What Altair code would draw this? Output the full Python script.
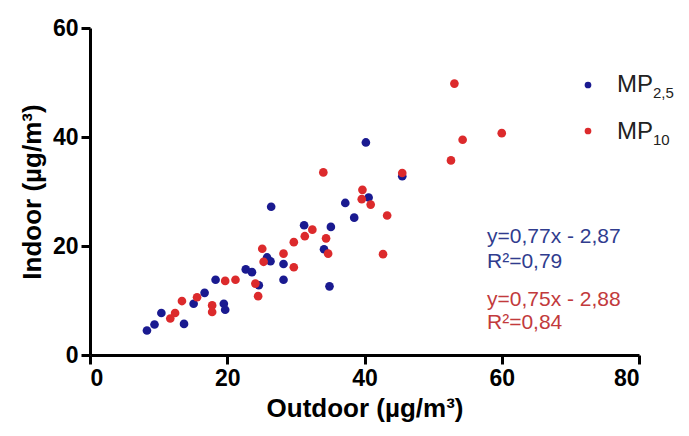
import altair as alt
import pandas as pd

# ---- data ----
pm25_x = [8.3, 9.4, 10.4, 13.7, 15.1, 16.7, 18.3, 19.5, 19.7, 22.7, 23.6, 24.6, 25.8, 26.3,
          26.4, 28.2, 28.2, 31.2, 35.1, 34.1, 34.9, 37.2, 38.5, 40.6, 40.2, 45.5]
pm25_y = [4.5, 5.6, 7.7, 5.7, 9.4, 11.4, 13.8, 9.4, 8.3, 15.7, 15.2, 12.8, 17.9, 17.2,
          27.2, 16.7, 13.8, 23.8, 23.5, 19.4, 12.6, 27.9, 25.2, 28.9, 39.0, 32.8]

pm10_x = [11.7, 12.4, 13.4, 15.6, 17.8, 17.8, 19.7, 21.2, 24.1, 24.5, 25.1, 25.3, 28.2, 29.7,
          29.7, 31.3, 32.4, 34.4, 34.7, 34.0, 39.7, 39.6, 40.9, 43.3, 42.7, 45.5, 52.6, 53.1,
          54.3, 60.0]
pm10_y = [6.7, 7.7, 9.9, 10.6, 9.1, 7.9, 13.6, 13.8, 13.1, 10.8, 19.5, 17.1, 18.6, 16.1,
          20.7, 21.8, 23.0, 21.4, 18.6, 33.5, 30.3, 28.6, 27.6, 25.6, 18.5, 33.4, 35.7, 49.8,
          39.5, 40.7]

series_names = ["MP2,5", "MP10"]
eq_pm25 = ["y=0,77x - 2,87", "R²=0,79"]
eq_pm10 = ["y=0,75x - 2,88", "R²=0,84"]

x_ticks = [0, 20, 40, 60, 80]
y_ticks = [0, 20, 40, 60]

BLUE = "#1a1a90"
RED = "#dc2a2c"
BLUE_TXT = "#303c8e"
RED_TXT = "#c23a3c"
FONT = "Liberation Sans"

df = pd.DataFrame({
    "Outdoor": pm25_x + pm10_x,
    "Indoor": pm25_y + pm10_y,
    "Serie": [series_names[0]] * len(pm25_x) + [series_names[1]] * len(pm10_x),
    "order": [0] * len(pm25_x) + [1] * len(pm10_x),
})

points = alt.Chart(df).mark_circle(size=75, opacity=1).encode(
    x=alt.X("Outdoor:Q", title="Outdoor (µg/m³)",
            scale=alt.Scale(domain=[0, 80], nice=False),
            axis=alt.Axis(values=x_ticks, titlePadding=5, labelPadding=3)),
    y=alt.Y("Indoor:Q", title="Indoor (µg/m³)",
            scale=alt.Scale(domain=[0, 60], nice=False),
            axis=alt.Axis(values=y_ticks, titlePadding=7, labelPadding=3)),
    color=alt.Color("Serie:N", scale=alt.Scale(domain=series_names, range=[BLUE, RED]),
                    legend=None),
    order=alt.Order("order:Q"),
)

# custom legend (with subscripts)
leg_dot1 = alt.Chart().mark_circle(size=45, color=BLUE, opacity=1).encode(
    x=alt.value(498), y=alt.value(57))
leg_dot2 = alt.Chart().mark_circle(size=45, color=RED, opacity=1).encode(
    x=alt.value(498), y=alt.value(103))
leg_mp1 = alt.Chart().mark_text(text="MP", font=FONT, fontSize=24, align="left",
                                baseline="middle", color="#222").encode(
    x=alt.value(527), y=alt.value(57))
leg_sub1 = alt.Chart().mark_text(text="2,5", font=FONT, fontSize=15, align="left",
                                 baseline="middle", color="#222").encode(
    x=alt.value(563), y=alt.value(65))
leg_mp2 = alt.Chart().mark_text(text="MP", font=FONT, fontSize=24, align="left",
                                baseline="middle", color="#222").encode(
    x=alt.value(527), y=alt.value(104))
leg_sub2 = alt.Chart().mark_text(text="10", font=FONT, fontSize=15, align="left",
                                 baseline="middle", color="#222").encode(
    x=alt.value(563), y=alt.value(112))

# regression equations
EQ_SIZE = 21
eq1 = alt.Chart().mark_text(text=eq_pm25[0], font=FONT, fontSize=EQ_SIZE, align="left",
                            baseline="middle", color=BLUE_TXT).encode(
    x=alt.value(397), y=alt.value(209))
eq2 = alt.Chart().mark_text(text=eq_pm25[1], font=FONT, fontSize=EQ_SIZE, align="left",
                            baseline="middle", color=BLUE_TXT).encode(
    x=alt.value(397), y=alt.value(234))
eq3 = alt.Chart().mark_text(text=eq_pm10[0], font=FONT, fontSize=EQ_SIZE, align="left",
                            baseline="middle", color=RED_TXT).encode(
    x=alt.value(397), y=alt.value(272))
eq4 = alt.Chart().mark_text(text=eq_pm10[1], font=FONT, fontSize=EQ_SIZE, align="left",
                            baseline="middle", color=RED_TXT).encode(
    x=alt.value(397), y=alt.value(295))

chart = alt.layer(
    points, leg_dot1, leg_dot2, leg_mp1, leg_sub1, leg_mp2, leg_sub2, eq1, eq2, eq3, eq4,
).properties(
    width=549, height=327,
    autosize=alt.AutoSizeParams(type="none"),
    padding={"left": 90, "top": 28, "right": 50, "bottom": 81},
    background="white",
).configure_view(stroke=None).configure_axis(
    grid=False,
    domainColor="black", domainWidth=3,
    tickColor="black", tickWidth=3, tickSize=9,
    labelFont=FONT, labelFontWeight="bold", labelFontSize=23, labelColor="black",
    titleFont=FONT, titleFontWeight="bold", titleFontSize=26, titleColor="black",
)

chart.save("out.html", embed_options={"renderer": "svg", "actions": False})
